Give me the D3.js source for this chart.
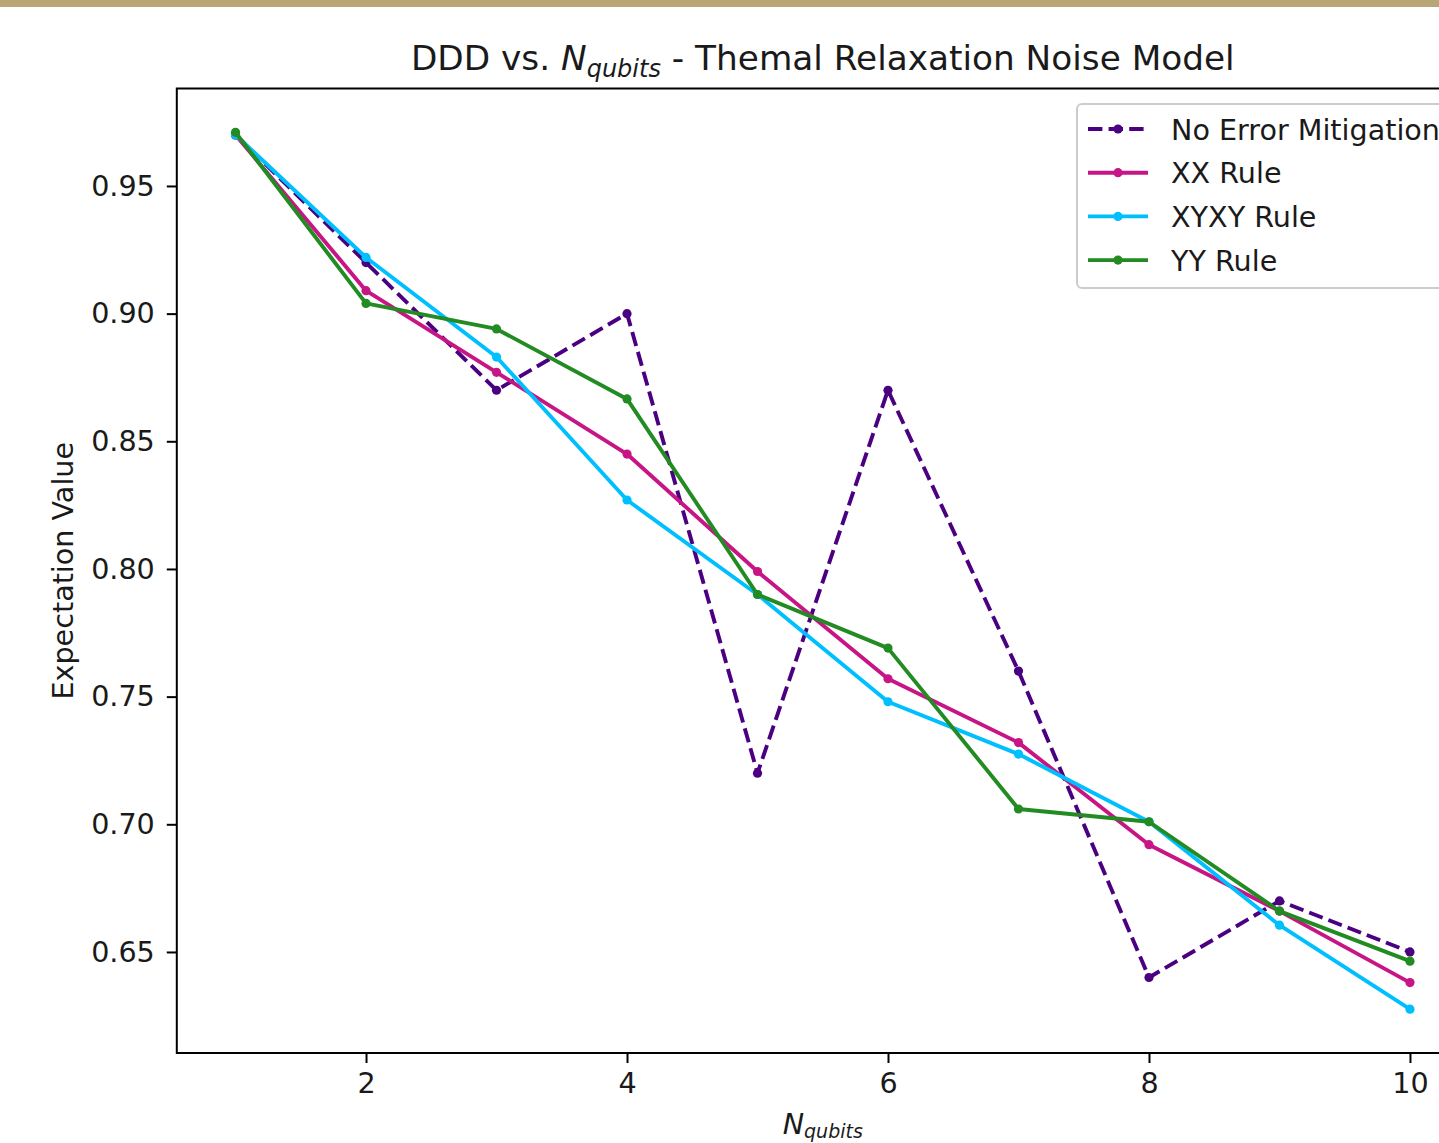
<!DOCTYPE html>
<html>
<head>
<meta charset="utf-8">
<script src="https://cdn.jsdelivr.net/npm/d3@7"></script>
<style>
  html, body { margin: 0; padding: 0; background: #fff; }
  svg { display: block; font-family: "DejaVu Sans", sans-serif; }
</style>
</head>
<body>
<svg id="chart" width="1439" height="1143"></svg>
<script>
const nQubits = [1, 2, 3, 4, 5, 6, 7, 8, 9, 10];
const noMitigation = [0.970, 0.920, 0.870, 0.900, 0.720, 0.870, 0.760, 0.640, 0.670, 0.650];
const xxRule =       [0.970, 0.909, 0.877, 0.845, 0.799, 0.757, 0.732, 0.692, 0.666, 0.638];
const xyxyRule =     [0.970, 0.922, 0.883, 0.827, 0.790, 0.748, 0.7275, 0.701, 0.6605, 0.6276];
const yyRule =       [0.971, 0.904, 0.894, 0.8666, 0.790, 0.769, 0.706, 0.701, 0.666, 0.6464];
const seriesNames = ["No Error Mitigation", "XX Rule", "XYXY Rule", "YY Rule"];
const seriesColors = ["#4b0082", "#c71585", "#00bfff", "#228b22"];
const seriesDashed = [true, false, false, false];
const xTicks = [2, 4, 6, 8, 10];
const yTicks = [0.65, 0.70, 0.75, 0.80, 0.85, 0.90, 0.95];

const seriesValues = [noMitigation, xxRule, xyxyRule, yyRule];

const svg = d3.select("#chart");

// top band
svg.append("rect").attr("x", 0).attr("y", 0).attr("width", 1439).attr("height", 7).attr("fill", "#b8a677");

const pLeft = 176.8, pTop = 88.5, pWidth = 1291.9, pHeight = 964.5;
const xExt = d3.extent(nQubits);
const xPad = (xExt[1] - xExt[0]) * 0.05;
const allY = seriesValues.flat();
const yExt = d3.extent(allY);
const yPad = (yExt[1] - yExt[0]) * 0.05;

const x = d3.scaleLinear().domain([xExt[0] - xPad, xExt[1] + xPad]).range([pLeft, pLeft + pWidth]);
const y = d3.scaleLinear().domain([yExt[0] - yPad, yExt[1] + yPad]).range([pTop + pHeight, pTop]);

const fontSize = 28.6;
const textColor = "#1a1a1a";

// lines
const line = d3.line().x((d, i) => x(nQubits[i])).y(d => y(d));
const plot = svg.append("g");
plot.append("clipPath").attr("id", "clip").append("rect")
  .attr("x", pLeft).attr("y", pTop).attr("width", pWidth).attr("height", pHeight);
const pg = plot.append("g").attr("clip-path", "url(#clip)");

seriesValues.forEach((vals, si) => {
  const g = pg.append("g");
  g.append("path").datum(vals).attr("d", line)
    .attr("fill", "none").attr("stroke", seriesColors[si]).attr("stroke-width", 3.9)
    .attr("stroke-linejoin", "round")
    .attr("stroke-dasharray", seriesDashed[si] ? "14.4,6.2" : null);
  g.selectAll("circle").data(vals).enter().append("circle")
    .attr("cx", (d, i) => x(nQubits[i])).attr("cy", d => y(d)).attr("r", 4.6)
    .attr("fill", seriesColors[si]);
});

// axes
const xAxis = d3.axisBottom(x).tickValues(xTicks).tickSize(10).tickPadding(10).tickFormat(d3.format("d"));
const yAxis = d3.axisLeft(y).tickValues(yTicks).tickSize(10).tickPadding(12).tickFormat(d3.format(".2f"));

const gx = svg.append("g").attr("transform", `translate(0,${pTop + pHeight})`).call(xAxis);
const gy = svg.append("g").attr("transform", `translate(${pLeft},0)`).call(yAxis);
[gx, gy].forEach(g => {
  g.select(".domain").remove();
  g.selectAll("line").attr("stroke", "#000").attr("stroke-width", 2);
  g.selectAll("text").attr("font-size", fontSize).attr("fill", textColor).attr("font-family", "DejaVu Sans");
});

// frame
svg.append("rect").attr("x", pLeft).attr("y", pTop).attr("width", pWidth).attr("height", pHeight)
  .attr("fill", "none").attr("stroke", "#000").attr("stroke-width", 2);

// title
const title = svg.append("text").attr("x", pLeft + pWidth / 2).attr("y", 70)
  .attr("text-anchor", "middle").attr("font-size", 34.3).attr("fill", textColor);
title.append("tspan").text("DDD vs. ");
title.append("tspan").attr("font-style", "italic").text("N");
title.append("tspan").attr("font-style", "italic").attr("font-size", 24).attr("dy", 7).text("qubits");
title.append("tspan").attr("dy", -7).text(" - Themal Relaxation Noise Model");

// x label
const xl = svg.append("text").attr("x", pLeft + pWidth / 2).attr("y", 1134)
  .attr("text-anchor", "middle").attr("font-size", fontSize).attr("fill", textColor);
xl.append("tspan").attr("font-style", "italic").text("N");
xl.append("tspan").attr("font-style", "italic").attr("font-size", 19).attr("dy", 3.5).text("qubits");

// y label
svg.append("text").attr("transform", `translate(73,${pTop + pHeight / 2}) rotate(-90)`)
  .attr("text-anchor", "middle").attr("font-size", fontSize).attr("fill", textColor)
  .text("Expectation Value");

// legend
const lg = svg.append("g");
lg.append("rect").attr("x", 1077).attr("y", 104).attr("width", 400).attr("height", 184)
  .attr("rx", 5).attr("fill", "#fff").attr("fill-opacity", 0.8)
  .attr("stroke", "#cccccc").attr("stroke-width", 2);
seriesNames.forEach((name, i) => {
  const yy = 129 + i * 43.7;
  lg.append("line").attr("x1", 1088).attr("x2", 1148).attr("y1", yy).attr("y2", yy)
    .attr("stroke", seriesColors[i]).attr("stroke-width", 3.9)
    .attr("stroke-dasharray", seriesDashed[i] ? "14.4,6.2" : null);
  lg.append("circle").attr("cx", 1118).attr("cy", yy).attr("r", 4.6).attr("fill", seriesColors[i]);
  lg.append("text").attr("x", 1171).attr("y", yy + 10.5).attr("font-size", fontSize).attr("fill", textColor).text(name);
});
</script>
</body>
</html>
